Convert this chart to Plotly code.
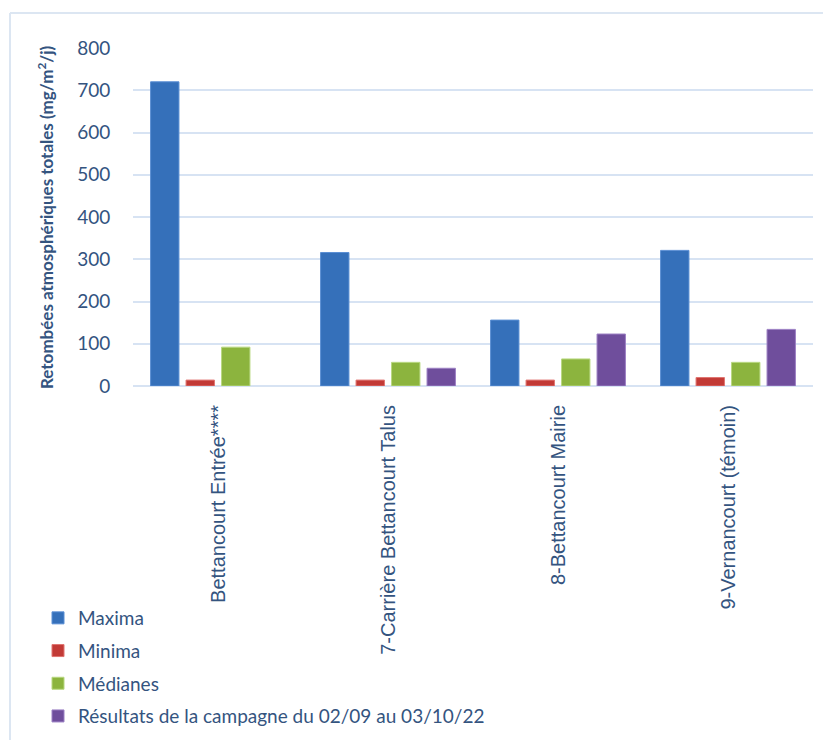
import plotly.graph_objects as go

categories = ["Bettancourt Entrée****", "7-Carrière Bettancourt Talus",
              "8-Bettancourt Mairie", "9-Vernancourt (témoin)"]
maxima = [720, 316, 156, 321]
minima = [14, 14, 14, 20]
medianes = [92, 56, 64, 56]
resultats = [None, 42, 123, 134]
series_names = ["Maxima", "Minima", "Médianes",
                "Résultats de la campagne du 02/09 au 03/10/22"]
y_ticks = [0, 100, 200, 300, 400, 500, 600, 700, 800]

colors = ["#3570ba", "#c23a36", "#8cb43e", "#6f4e9c"]
edge = ["#5b8fd4", "#e07470", "#b8d880", "#9c80c4"]
text_col = "#34547f"

L, T, W, H = 125, 40, 680, 338
B = T + H

def px(x):
    return (x - L) / W

def py(y):
    return (B - y) / H

fig = go.Figure()
for name, vals, c, e in zip(series_names, [maxima, minima, medianes, resultats], colors, edge):
    fig.add_trace(go.Bar(x=categories, y=vals, name=name, legendgroup=name,
                         marker=dict(color=c, line=dict(color=e, width=1))))

fig.update_layout(
    width=831, height=740,
    paper_bgcolor="white", plot_bgcolor="white",
    margin=dict(l=L, r=831 - L - W, t=T, b=740 - B, autoexpand=False),
    barmode="group", bargap=0.165, bargroupgap=0.2,
    font=dict(family="Lato, Liberation Sans, sans-serif", color=text_col),
    showlegend=True,
    legend=dict(xref="container", yref="container", x=30/831, y=1-591/740,
                xanchor="left", yanchor="top", orientation="v",
                font=dict(size=19, color=text_col, family="Lato"),
                tracegroupgap=5, itemwidth=30, bgcolor="rgba(0,0,0,0)"),
    xaxis=dict(tickangle=-90, showgrid=False, showline=False, zeroline=False,
               tickfont=dict(size=20, family="Liberation Sans", color=text_col),
               ticks="outside", ticklen=10, tickcolor="rgba(0,0,0,0)"),
    yaxis=dict(range=[0, 800], tickvals=y_ticks, showgrid=True,
               gridcolor="#d7e3f3", gridwidth=2, zeroline=True,
               zerolinecolor="#d7e3f3", zerolinewidth=2, showline=False,
               tickfont=dict(size=19, family="Lato", color=text_col),
               ticks="outside", ticklen=18, tickcolor="rgba(0,0,0,0)"),
    annotations=[dict(text="Retombées atmosphériques totales (mg/m<sup>2</sup>/j)",
                      xref="paper", yref="paper", x=px(37), y=0.5,
                      textangle=-90, showarrow=False, xanchor="center", yanchor="middle",
                      font=dict(size=17, family="Lato", color=text_col, weight="bold"))],
    shapes=[dict(type="line", xref="paper", yref="paper",
                 x0=px(2), x1=px(840), y0=py(5), y1=py(5),
                 line=dict(color="#dce6f2", width=2)),
            dict(type="line", xref="paper", yref="paper",
                 x0=px(2), x1=px(2), y0=py(5), y1=py(750),
                 line=dict(color="#dce6f2", width=2))],
)

fig.write_html("out.html")
